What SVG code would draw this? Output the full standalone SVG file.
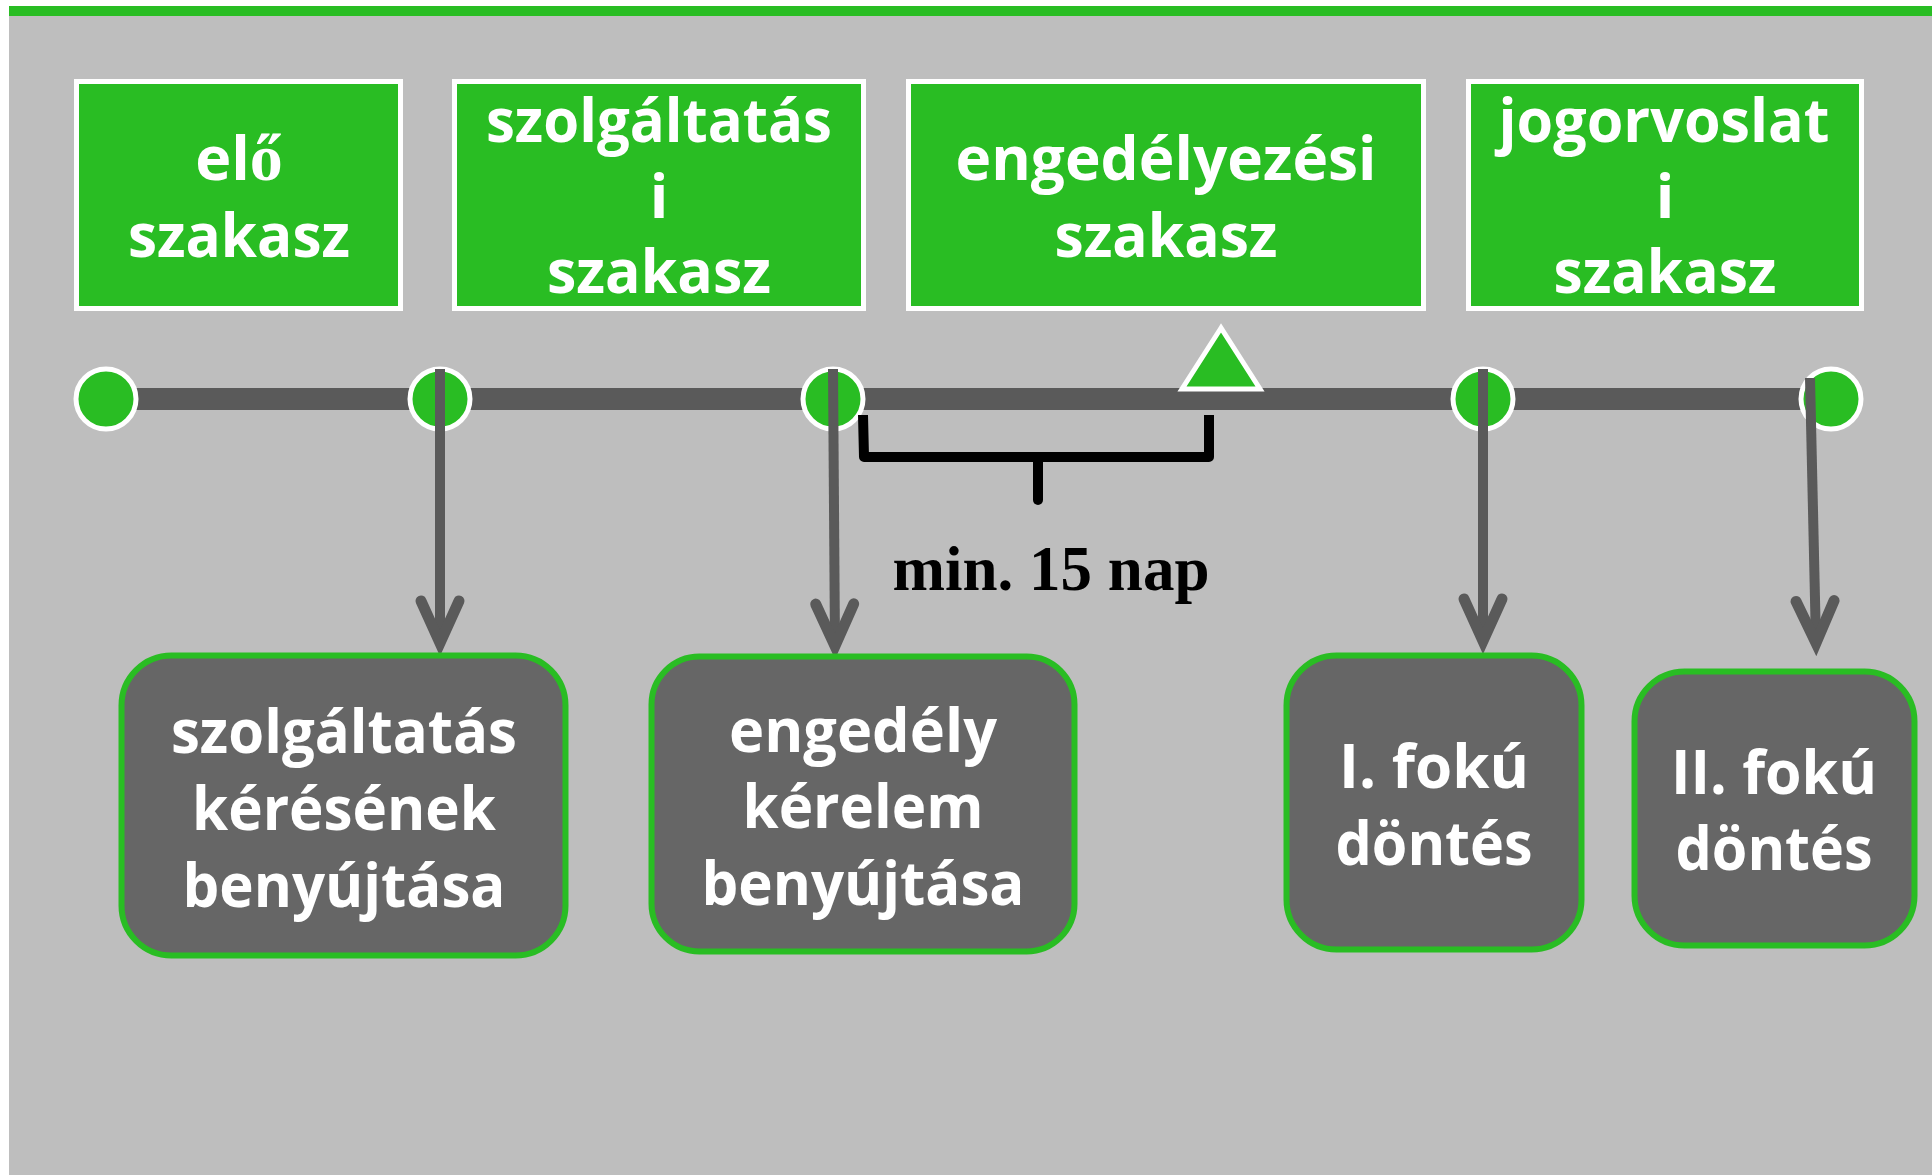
<svg xmlns="http://www.w3.org/2000/svg" width="1932" height="1175" viewBox="0 0 1932 1175">
  <style>
    .phase rect { fill: #29bd23; stroke: #ffffff; stroke-width: 5; }
    .step rect { fill: #666666; stroke: #29bd23; stroke-width: 6; }
    .lbl { font-family: "Open Sans", "Liberation Sans", sans-serif; font-weight: bold; font-size: 61px; fill: #ffffff; text-anchor: middle; }
    .dot { fill: #29bd23; stroke: #ffffff; stroke-width: 5; }
    .arrow { fill: none; stroke: #5a5a5a; stroke-width: 10; marker-end: url(#chev); }
    .brace { fill: none; stroke: #000000; stroke-width: 10; stroke-linejoin: round; }
  </style>
  <defs>
    <marker id="chev" markerUnits="userSpaceOnUse" viewBox="-50 -30 60 60" markerWidth="60" markerHeight="60" refX="0" refY="0" orient="auto" overflow="visible">
      <path d="M -42 -19 L 0 0 L -42 19" fill="none" stroke="#5a5a5a" stroke-width="11" stroke-linecap="round" stroke-linejoin="miter"/>
    </marker>
  </defs>

  <rect x="0" y="0" width="1932" height="1175" fill="#ffffff"/>
  <rect x="9" y="6" width="1923" height="1169" fill="#bebebe"/>
  <rect x="9" y="6" width="1923" height="10" fill="#29bd23"/>

  <g id="phase-elo" class="phase">
    <rect x="76.5" y="81.5" width="324" height="227"/>
    <text class="lbl" x="239" y="180">el<tspan font-family="'Liberation Serif', serif" font-weight="bold" font-size="66">ő</tspan></text>
    <text class="lbl" x="239" y="257" textLength="222" lengthAdjust="spacingAndGlyphs">szakasz</text>
  </g>
  <g id="phase-szolgaltatasi" class="phase">
    <rect x="454.5" y="81.5" width="409" height="227"/>
    <text class="lbl" x="659" y="142" textLength="346" lengthAdjust="spacingAndGlyphs">szolgáltatás</text>
    <text class="lbl" x="659" y="218">i</text>
    <text class="lbl" x="659" y="293" textLength="224" lengthAdjust="spacingAndGlyphs">szakasz</text>
  </g>
  <g id="phase-engedelyezesi" class="phase">
    <rect x="908.5" y="81.5" width="515" height="227"/>
    <text class="lbl" x="1166" y="180" textLength="421" lengthAdjust="spacingAndGlyphs">engedélyezési</text>
    <text class="lbl" x="1166" y="257" textLength="223" lengthAdjust="spacingAndGlyphs">szakasz</text>
  </g>
  <g id="phase-jogorvoslati" class="phase">
    <rect x="1468.5" y="81.5" width="393" height="227"/>
    <text class="lbl" x="1664" y="142" textLength="331" lengthAdjust="spacingAndGlyphs">jogorvoslat</text>
    <text class="lbl" x="1665" y="218">i</text>
    <text class="lbl" x="1665" y="293" textLength="223" lengthAdjust="spacingAndGlyphs">szakasz</text>
  </g>

  <g id="timeline">
    <rect x="106" y="388" width="1725" height="22" fill="#5a5a5a"/>
    <circle class="dot" cx="106" cy="399" r="30"/>
    <circle class="dot" cx="440" cy="399" r="30"/>
    <circle class="dot" cx="833" cy="399" r="30"/>
    <circle class="dot" cx="1483" cy="399" r="30"/>
    <circle class="dot" cx="1831" cy="399" r="30"/>
    <polygon points="1221,328 1182,389 1260,389" fill="#29bd23" stroke="#ffffff" stroke-width="5"/>
  </g>

  <g id="interval">
    <path class="brace" d="M 863 415 L 864 457 L 1209 457 L 1209 415"/>
    <path class="brace" d="M 1038 457 L 1038 500" stroke-linecap="round"/>
    <text x="1051" y="590" font-family="'Liberation Serif', 'Times New Roman', serif" font-weight="bold" font-size="63" fill="#000000" text-anchor="middle" textLength="317" lengthAdjust="spacingAndGlyphs">min. 15 nap</text>
  </g>

  <g id="connectors">
    <path class="arrow" d="M 440 369 L 440 643"/>
    <path class="arrow" d="M 833 369 L 835 646"/>
    <path class="arrow" d="M 1483 369 L 1483 641"/>
    <path class="arrow" d="M 1810 378 L 1816 643"/>
  </g>

  <g id="step-szolgaltatas-keres" class="step">
    <rect x="121.5" y="655.5" width="444" height="300" rx="50" ry="50"/>
    <text class="lbl" x="344" y="753" textLength="346" lengthAdjust="spacingAndGlyphs">szolgáltatás</text>
    <text class="lbl" x="344" y="830" textLength="304" lengthAdjust="spacingAndGlyphs">kérésének</text>
    <text class="lbl" x="344" y="907" textLength="323" lengthAdjust="spacingAndGlyphs">benyújtása</text>
  </g>
  <g id="step-engedely-kerelem" class="step">
    <rect x="651.5" y="656.5" width="423" height="295" rx="48" ry="48"/>
    <text class="lbl" x="863" y="752" textLength="268" lengthAdjust="spacingAndGlyphs">engedély</text>
    <text class="lbl" x="863" y="828" textLength="241" lengthAdjust="spacingAndGlyphs">kérelem</text>
    <text class="lbl" x="863" y="905" textLength="323" lengthAdjust="spacingAndGlyphs">benyújtása</text>
  </g>
  <g id="step-elsofoku" class="step">
    <rect x="1286.5" y="655.5" width="295" height="294" rx="50" ry="50"/>
    <text class="lbl" x="1434" y="788" textLength="190" lengthAdjust="spacingAndGlyphs">I. fokú</text>
    <text class="lbl" x="1434" y="865" textLength="197" lengthAdjust="spacingAndGlyphs">döntés</text>
  </g>
  <g id="step-masodfoku" class="step">
    <rect x="1634.5" y="671.5" width="280" height="274" rx="50" ry="50"/>
    <text class="lbl" x="1774" y="794" textLength="206" lengthAdjust="spacingAndGlyphs">II. fokú</text>
    <text class="lbl" x="1774" y="870" textLength="197" lengthAdjust="spacingAndGlyphs">döntés</text>
  </g>
</svg>
